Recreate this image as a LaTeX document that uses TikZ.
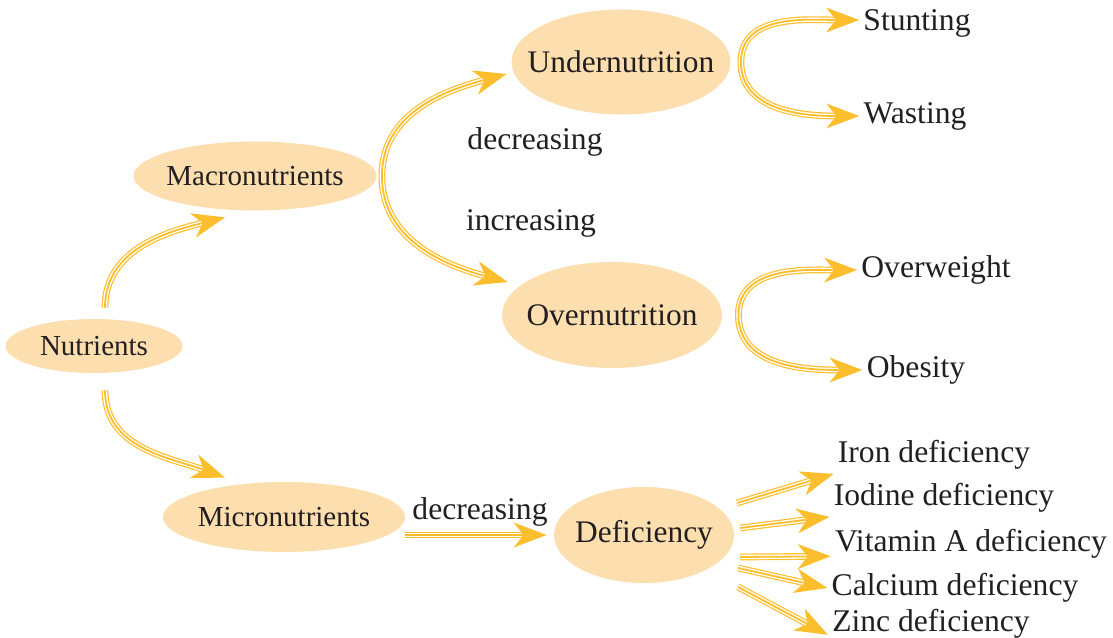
\documentclass[tikz,border=0pt]{standalone}
\usepackage{fontspec}
\setmainfont{Liberation Serif}
\usetikzlibrary{shapes.geometric,arrows.meta}
\definecolor{peach}{RGB}{253,222,175}
\definecolor{arrowc}{RGB}{252,190,45}
\definecolor{ink}{RGB}{35,31,32}
\tikzset{
  blob/.style={ellipse, fill=peach, text=ink, inner xsep=-12pt, inner ysep=0pt, font=\fontsize{14.5}{17}\selectfont},
  bigblob/.style={blob, font=\fontsize{15.7}{18}\selectfont},
  lbl/.style={text=ink, inner sep=2pt, text height=11pt, text depth=3.5pt, font=\fontsize{15.8}{18}\selectfont},
  tri/.style={draw=arrowc, line width=3.4pt,
    -{Stealth[length=16.5pt, width=12.5pt, inset=5pt, line width=0pt]},
    postaction={draw=white, line width=2.2pt, -, shorten >=12.2pt},
    postaction={draw=arrowc, line width=0.9pt, -, shorten >=12.2pt}},
}
\begin{document}
\begin{tikzpicture}[x=0.5pt, y=0.5pt]
\useasboundingbox (0,0) rectangle (1113,637);
\node[blob, minimum width=88.5pt, minimum height=27pt] (nutr) at (94,291) {Nutrients};
\node[blob, minimum width=121.5pt, minimum height=34.5pt] (macro) at (255,461) {Macronutrients};
\node[blob, minimum width=121pt, minimum height=35pt] (micro) at (284,120) {Micronutrients};
\node[bigblob, minimum width=109.5pt, minimum height=52.5pt] (under) at (621,575) {Undernutrition};
\node[bigblob, minimum width=110pt, minimum height=53pt] (over) at (612,322) {Overnutrition};
\node[bigblob, minimum width=90pt, minimum height=48pt] (defic) at (644,102) {Deficiency};

\node[lbl] (dec1) at (535,495) {decreasing};
\node[lbl] (inc) at (531,414) {increasing};
\node[lbl] (dec2) at (480,125) {decreasing};
\node[lbl] (stunt) at (917,614) {Stunting};
\node[lbl] (wast) at (915,521) {Wasting};
\node[lbl] (ovw) at (936,367) {Overweight};
\node[lbl] (obes) at (916,267) {Obesity};
\node[lbl] (iron) at (934,182) {Iron deficiency};
\node[lbl] (iod) at (944,139) {Iodine deficiency};
\node[lbl] (vita) at (971,93) {Vitamin A deficiency};
\node[lbl] (calc) at (955,49) {Calcium deficiency};
\node[lbl] (zinc) at (931,13) {Zinc deficiency};

\coordinate (d1) at (737,134);
\coordinate (d2) at (740,109);
\coordinate (d3) at (740,80);
\coordinate (d4) at (738,69);
\coordinate (d5) at (738,50);

\draw[tri] ([shift={(11,11)}]nutr.north) to[out=90,in=194] ([shift={(-30,-6.5)}]macro.south);
\draw[tri] ([shift={(11,-17)}]nutr.south) to[out=270,in=160] ([shift={(-59,4)}]micro.north);
\draw[tri] ([xshift=2.5pt]macro.east) to[out=90,in=195] ([shift={(-4.5,-12)}]under.west);
\draw[tri] ([xshift=2.5pt]macro.east) to[out=270,in=165] ([shift={(6,33)}]over.west);
\draw[tri] ([xshift=5pt]under.east) to[out=90,in=180] ([yshift=1.5pt]stunt.west);
\draw[tri] ([xshift=5pt]under.east) to[out=270,in=180] (wast.west);
\draw[tri] ([xshift=8pt]over.east) to[out=90,in=180] (ovw.west);
\draw[tri] ([xshift=8pt]over.east) to[out=270,in=180] (obes.west);
\draw[tri] (defic.west -| micro.east) -- ([xshift=-3.5pt]defic.west);
\draw[tri] (d1) -- (iron.south west);
\draw[tri] (d2) -- (iod.south west);
\draw[tri] (d3) -- (vita.185);
\draw[tri] (d4) -- (calc.west);
\draw[tri] (d5) -- (zinc.186);
\end{tikzpicture}
\end{document}
